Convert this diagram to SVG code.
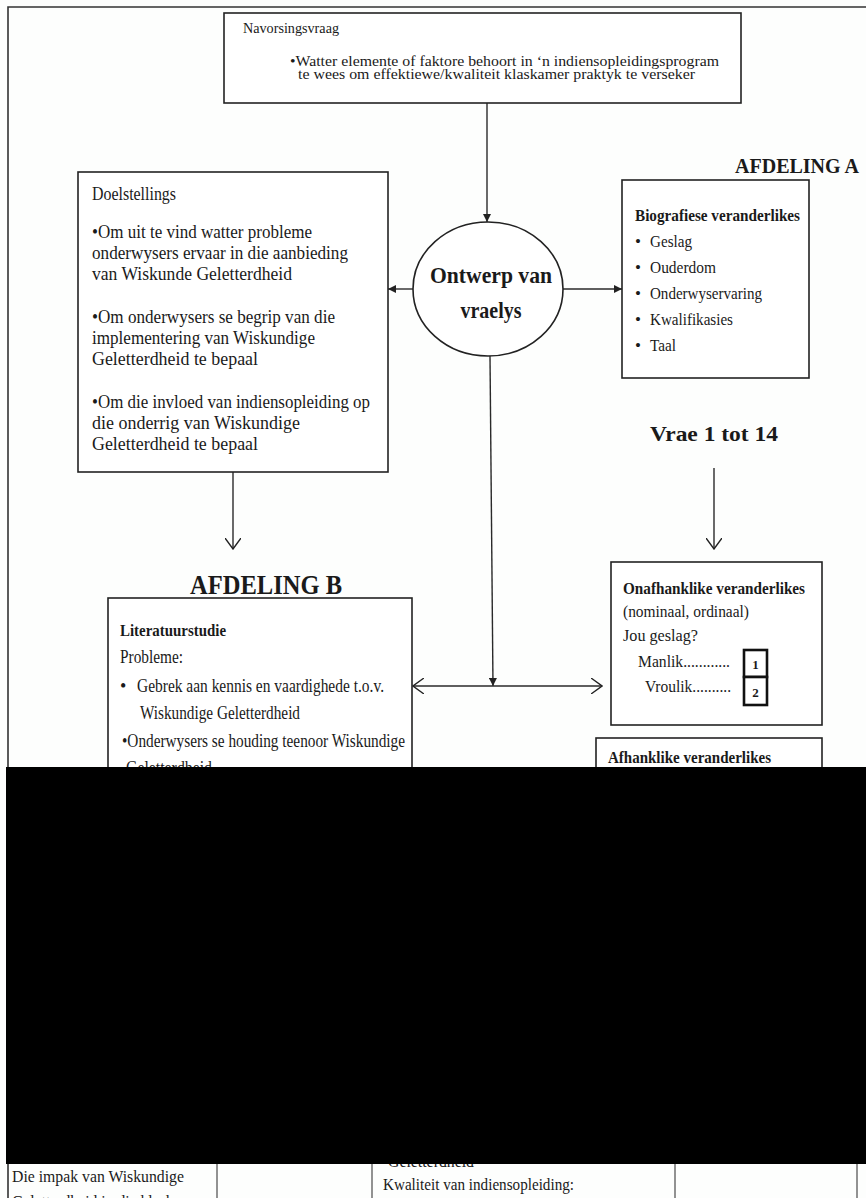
<svg xmlns="http://www.w3.org/2000/svg" width="866" height="1198" viewBox="0 0 866 1198">
  <style>
    .box { fill: #ffffff; stroke: #222; stroke-width: 1.6; }
    .frame { fill: none; stroke: #333; stroke-width: 1.6; }
    .ln { fill: none; stroke: #2a2a2a; stroke-width: 1.4; }
    .t { font-family: "Liberation Serif", "Times New Roman", serif; fill: #1a1a1a; }
    .b { font-weight: bold; }
    .cell { fill: none; stroke: #777; stroke-width: 1.6; }
  </style>
  <defs>
    <marker id="solid" viewBox="0 0 10 10" refX="10" refY="5" markerWidth="8" markerHeight="8" markerUnits="userSpaceOnUse" orient="auto">
      <path d="M0,0 L10,5 L0,10 Z" fill="#222"/>
    </marker>
    <marker id="open" viewBox="0 0 12 16" refX="11" refY="8" markerWidth="12" markerHeight="16" markerUnits="userSpaceOnUse" orient="auto">
      <path d="M0,0 L11,8 L0,16" fill="none" stroke="#222" stroke-width="1.4"/>
    </marker>
    <marker id="openStart" viewBox="0 0 12 16" refX="1" refY="8" markerWidth="12" markerHeight="16" markerUnits="userSpaceOnUse" orient="auto">
      <path d="M12,0 L1,8 L12,16" fill="none" stroke="#222" stroke-width="1.4"/>
    </marker>
  </defs>

  <rect width="866" height="1198" fill="#fdfefd"/>
  <!-- page frame -->
  <path class="frame" d="M8,1198 V7 H866"/>

  <!-- connectors -->
  <g id="connectors">
    <line class="ln" x1="487" y1="103" x2="487" y2="222" marker-end="url(#solid)"/>
    <line class="ln" x1="413" y1="289" x2="388" y2="289" marker-end="url(#solid)"/>
    <line class="ln" x1="563" y1="289" x2="622" y2="289" marker-end="url(#solid)"/>
    <line class="ln" x1="233" y1="472" x2="233" y2="549" marker-end="url(#open)"/>
    <line class="ln" x1="714" y1="468" x2="714" y2="549" marker-end="url(#open)"/>
    <line class="ln" x1="490" y1="356" x2="493" y2="686" marker-end="url(#solid)"/>
    <line class="ln" x1="413" y1="686" x2="602" y2="686" marker-start="url(#openStart)" marker-end="url(#open)"/>
  </g>

  <!-- research question -->
  <g id="navorsingsvraag">
    <rect class="box" x="224" y="13" width="517" height="90"/>
    <text class="t" x="243" y="33" font-size="15" textLength="96" lengthAdjust="spacingAndGlyphs">Navorsingsvraag</text>
    <text class="t" x="290" y="66" font-size="14" textLength="429" lengthAdjust="spacingAndGlyphs">•Watter elemente of faktore behoort in ‘n indiensopleidingsprogram</text>
    <text class="t" x="298" y="79" font-size="14" textLength="397" lengthAdjust="spacingAndGlyphs">te wees om effektiewe/kwaliteit klaskamer praktyk te verseker</text>
  </g>

  <!-- questionnaire design -->
  <g id="ontwerp">
    <ellipse class="box" cx="488" cy="289" rx="75" ry="67"/>
    <text class="t b" x="491" y="283" font-size="23" text-anchor="middle" textLength="122" lengthAdjust="spacingAndGlyphs">Ontwerp van</text>
    <text class="t b" x="491" y="318" font-size="23" text-anchor="middle" textLength="61" lengthAdjust="spacingAndGlyphs">vraelys</text>
  </g>

  <!-- objectives -->
  <g id="doelstellings">
    <rect class="box" x="78" y="172" width="310" height="300"/>
    <g class="t" font-size="18">
      <text x="92" y="200" textLength="84" lengthAdjust="spacingAndGlyphs">Doelstellings</text>
      <text x="92" y="238" textLength="220" lengthAdjust="spacingAndGlyphs">•Om uit te vind watter probleme</text>
      <text x="92" y="259" textLength="256" lengthAdjust="spacingAndGlyphs">onderwysers ervaar in die aanbieding</text>
      <text x="92" y="280" textLength="200" lengthAdjust="spacingAndGlyphs">van Wiskunde Geletterdheid</text>
      <text x="92" y="323" textLength="243" lengthAdjust="spacingAndGlyphs">•Om onderwysers se begrip van die</text>
      <text x="92" y="344" textLength="223" lengthAdjust="spacingAndGlyphs">implementering van Wiskundige</text>
      <text x="92" y="365" textLength="166" lengthAdjust="spacingAndGlyphs">Geletterdheid te bepaal</text>
      <text x="92" y="408" textLength="278" lengthAdjust="spacingAndGlyphs">•Om die invloed van indiensopleiding op</text>
      <text x="92" y="429" textLength="208" lengthAdjust="spacingAndGlyphs">die onderrig van  Wiskundige</text>
      <text x="92" y="450" textLength="166" lengthAdjust="spacingAndGlyphs">Geletterdheid te bepaal</text>
    </g>
  </g>

  <!-- section A -->
  <g id="afdeling-a">
    <text class="t b" x="735" y="173" font-size="20" textLength="124" lengthAdjust="spacingAndGlyphs">AFDELING A</text>
  </g>

  <g id="biografiese">
    <rect class="box" x="622" y="180" width="187" height="198"/>
    <text class="t b" x="635" y="221" font-size="16" textLength="165" lengthAdjust="spacingAndGlyphs">Biografiese veranderlikes</text>
    <g class="t" font-size="17">
      <text x="635" y="247">•</text><text x="650" y="247" textLength="42" lengthAdjust="spacingAndGlyphs">Geslag</text>
      <text x="635" y="273">•</text><text x="650" y="273" textLength="66" lengthAdjust="spacingAndGlyphs">Ouderdom</text>
      <text x="635" y="299">•</text><text x="650" y="299" textLength="112" lengthAdjust="spacingAndGlyphs">Onderwyservaring</text>
      <text x="635" y="325">•</text><text x="650" y="325" textLength="83" lengthAdjust="spacingAndGlyphs">Kwalifikasies</text>
      <text x="635" y="351">•</text><text x="650" y="351" textLength="26" lengthAdjust="spacingAndGlyphs">Taal</text>
    </g>
  </g>

  <g id="vrae">
    <text class="t b" x="650" y="441" font-size="21" textLength="128" lengthAdjust="spacingAndGlyphs">Vrae 1 tot 14</text>
  </g>

  <!-- section B -->
  <g id="afdeling-b">
    <text class="t b" x="190" y="594" font-size="28" textLength="152" lengthAdjust="spacingAndGlyphs">AFDELING B</text>
  </g>

  <g id="literatuurstudie">
    <rect class="box" x="108" y="598" width="304" height="200"/>
    <text class="t b" x="120" y="636" font-size="17" textLength="106" lengthAdjust="spacingAndGlyphs">Literatuurstudie</text>
    <g class="t" font-size="18">
      <text x="120" y="663" textLength="63" lengthAdjust="spacingAndGlyphs">Probleme:</text>
      <text x="120" y="692">•</text>
      <text x="137" y="692" textLength="247" lengthAdjust="spacingAndGlyphs">Gebrek aan kennis en vaardighede t.o.v.</text>
      <text x="140" y="719" textLength="160" lengthAdjust="spacingAndGlyphs">Wiskundige Geletterdheid</text>
      <text x="122" y="747" textLength="283" lengthAdjust="spacingAndGlyphs">•Onderwysers se houding teenoor Wiskundige</text>
      <text x="126" y="774" textLength="86" lengthAdjust="spacingAndGlyphs">Geletterdheid</text>
    </g>
  </g>

  <g id="onafhanklike">
    <rect class="box" x="611" y="562" width="211" height="163"/>
    <text class="t b" x="623" y="594" font-size="16" textLength="182" lengthAdjust="spacingAndGlyphs">Onafhanklike veranderlikes</text>
    <g class="t" font-size="16">
      <text x="623" y="617" textLength="126" lengthAdjust="spacingAndGlyphs">(nominaal, ordinaal)</text>
      <text x="623" y="641" textLength="75" lengthAdjust="spacingAndGlyphs">Jou geslag?</text>
      <text x="638" y="667" textLength="92" lengthAdjust="spacingAndGlyphs">Manlik............</text>
      <text x="645" y="692" textLength="86" lengthAdjust="spacingAndGlyphs">Vroulik..........</text>
    </g>
    <rect x="744" y="650" width="23" height="27" fill="#fff" stroke="#111" stroke-width="2.6"/>
    <rect x="744" y="677" width="23" height="28" fill="#fff" stroke="#111" stroke-width="2.6"/>
    <text class="t b" x="755.5" y="669" font-size="13" text-anchor="middle">1</text>
    <text class="t b" x="755.5" y="697" font-size="13" text-anchor="middle">2</text>
  </g>

  <g id="afhanklike">
    <rect class="box" x="596" y="738" width="226" height="60"/>
    <text class="t b" x="608" y="763" font-size="16" textLength="163" lengthAdjust="spacingAndGlyphs">Afhanklike veranderlikes</text>
  </g>

  <!-- lower table row -->
  <g id="tabel">
    <line class="cell" x1="217" y1="1160" x2="217" y2="1198"/>
    <line class="cell" x1="372" y1="1160" x2="372" y2="1198"/>
    <line class="cell" x1="675" y1="1160" x2="675" y2="1198"/>
    <line class="cell" x1="857" y1="1160" x2="857" y2="1198"/>
    <g class="t" font-size="17">
      <text x="12" y="1182" textLength="172" lengthAdjust="spacingAndGlyphs">Die impak van Wiskundige</text>
      <text x="12" y="1207" textLength="193" lengthAdjust="spacingAndGlyphs">Geletterdheid in die klaskamer</text>
      <text x="388" y="1167" textLength="86" lengthAdjust="spacingAndGlyphs">Geletterdheid</text>
      <text x="383" y="1190" textLength="191" lengthAdjust="spacingAndGlyphs">Kwaliteit van indiensopleiding:</text>
    </g>
  </g>

  <!-- blacked-out band -->
  <rect x="6" y="767" width="860" height="397" fill="#000"/>
</svg>
